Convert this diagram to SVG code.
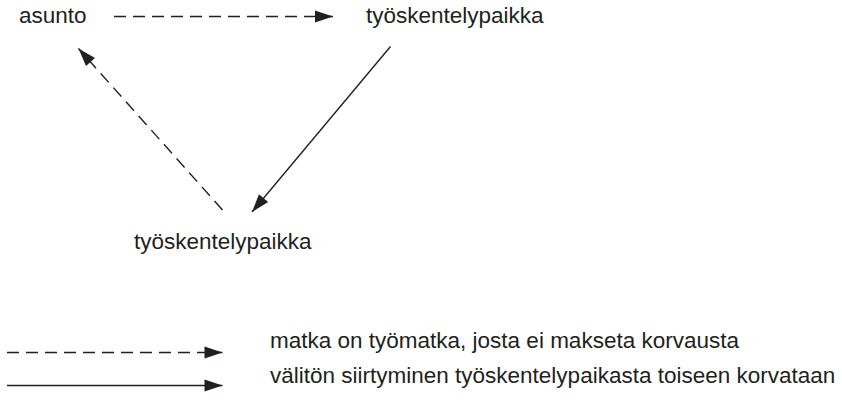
<svg xmlns="http://www.w3.org/2000/svg" width="842" height="405" viewBox="0 0 842 405">
<defs>
<style>
.t{font-family:"Liberation Sans",Arial,sans-serif;font-size:22.5px;fill:#231f20}
.c{stroke:#231f20;stroke-width:1.4;fill:none}
.d{stroke-dasharray:12 7}
</style>
<marker id="ah" markerUnits="userSpaceOnUse" markerWidth="20" markerHeight="14" refX="18" refY="6" orient="auto" overflow="visible">
<path d="M0,0 L18,6 L0,12 z" fill="#231f20"/>
</marker>
</defs>
<rect width="842" height="405" fill="#fff"/>
<g id="asunto"><text class="t" x="19" y="22.5">asunto</text></g>
<g id="tyopaikka1"><text class="t" x="366" y="22.5">työskentelypaikka</text></g>
<g id="tyopaikka2"><text class="t" x="134" y="248.5">työskentelypaikka</text></g>
<g id="connectors">
<line class="c d" x1="114" y1="16.5" x2="333" y2="16.5" marker-end="url(#ah)"/>
<line class="c" x1="390.5" y1="46.5" x2="252" y2="212" marker-end="url(#ah)"/>
<line class="c d" x1="222.5" y1="210" x2="78.5" y2="48.5" marker-end="url(#ah)"/>
</g>
<g id="legend">
<line class="c d" x1="7" y1="352.5" x2="222.5" y2="352.5" marker-end="url(#ah)"/>
<text class="t" x="270" y="347.5">matka on työmatka, josta ei makseta korvausta</text>
<line class="c" x1="7" y1="385.5" x2="222.5" y2="385.5" marker-end="url(#ah)"/>
<text class="t" x="270" y="383">välitön siirtyminen työskentelypaikasta toiseen korvataan</text>
</g>
</svg>
